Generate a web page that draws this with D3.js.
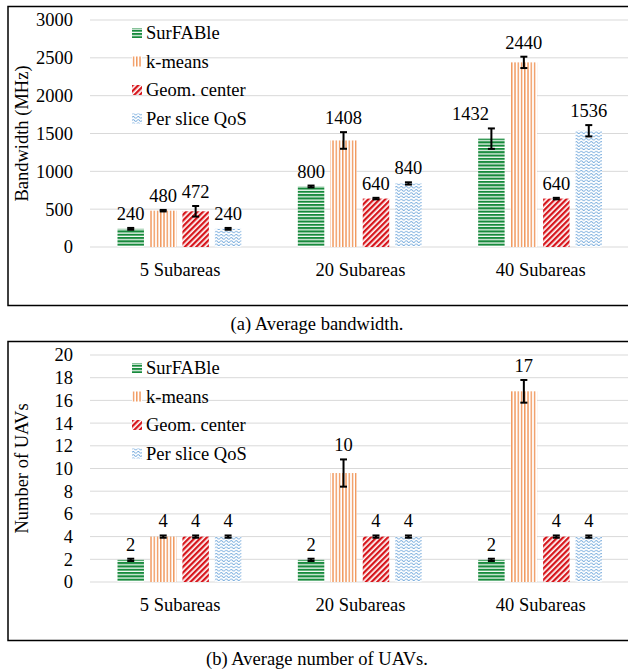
<!DOCTYPE html>
<html>
<head>
<meta charset="utf-8">
<script src="https://cdn.jsdelivr.net/npm/d3@7"></script>
<style>
body { margin:0; background:#fff; }
svg { display:block; }
</style>
</head>
<body>
<div id="chart"></div>
<script>
var categories = ["5 Subareas", "20 Subareas", "40 Subareas"];
var series = ["SurFABle", "k-means", "Geom. center", "Per slice QoS"];

// panel (a) bandwidth, one row per series
var bwValues = [[240, 800, 1432], [480, 1408, 2440], [472, 640, 640], [240, 840, 1536]];
var bwErrors = [[12, 12, 135], [10, 110, 75], [70, 10, 10], [12, 15, 75]];
var bwLabels = [["240", "800", "1432"], ["480", "1408", "2440"], ["472", "640", "640"], ["240", "840", "1536"]];
var bwTicks = [0, 500, 1000, 1500, 2000, 2500, 3000];

// panel (b) number of UAVs
var uavValues = [[1.95, 1.95, 1.95], [4, 9.6, 16.8], [4, 4, 4], [4, 4, 4]];
var uavErrors = [[0.1, 0.1, 0.1], [0.1, 1.2, 1.0], [0.1, 0.1, 0.1], [0.1, 0.1, 0.1]];
var uavLabels = [["2", "2", "2"], ["4", "10", "17"], ["4", "4", "4"], ["4", "4", "4"]];
var uavTicks = [0, 2, 4, 6, 8, 10, 12, 14, 16, 18, 20];

var FONT = "'Liberation Serif', Tinos, 'Times New Roman', 'Nimbus Roman', 'Nimbus Roman No9 L', FreeSerif, 'DejaVu Serif', 'Noto Serif', Georgia, serif";

var svg = d3.select("#chart").append("svg")
  .attr("width", 628)
  .attr("height", 671)
  .style("font-family", FONT);

var defs = svg.append("defs");

// green horizontal lines
var p0 = defs.append("pattern").attr("id", "pat0")
  .attr("patternUnits", "userSpaceOnUse").attr("width", 4).attr("height", 3.3);
p0.append("rect").attr("width", 4).attr("height", 3.3).attr("fill", "#fff");
p0.append("rect").attr("width", 4).attr("height", 2.1).attr("fill", "#178a3c");

// orange vertical lines
var p1 = defs.append("pattern").attr("id", "pat1")
  .attr("patternUnits", "userSpaceOnUse").attr("width", 3.25).attr("height", 4);
p1.append("rect").attr("width", 3.25).attr("height", 4).attr("fill", "#fff");
p1.append("rect").attr("x", 1).attr("width", 1.1).attr("height", 4).attr("fill", "#ed7d31");

// red upward diagonal
var p2 = defs.append("pattern").attr("id", "pat2")
  .attr("patternUnits", "userSpaceOnUse").attr("width", 4).attr("height", 4)
  .attr("patternTransform", "rotate(45)");
p2.append("rect").attr("width", 4).attr("height", 4).attr("fill", "#fff");
p2.append("rect").attr("width", 2.3).attr("height", 4).attr("fill", "#d7161c");

// blue waves
var p3 = defs.append("pattern").attr("id", "pat3")
  .attr("patternUnits", "userSpaceOnUse").attr("width", 5).attr("height", 3.2);
p3.append("rect").attr("width", 5).attr("height", 3.2).attr("fill", "#fff");
p3.append("path").attr("d", "M0,2 Q1.25,0.4 2.5,2 T5,2")
  .attr("fill", "none").attr("stroke", "#6ea6da").attr("stroke-width", 0.9);

function label(sel) {
  return sel.style("font-family", FONT).attr("font-size", 18.5);
}

function panel(top, values, errors, labels, ticks, yTitle, caption) {
  var g = svg.append("g").attr("transform", "translate(0," + top + ")");
  var zero = 241, ytop = 14;

  g.append("rect")
    .attr("x", 8).attr("y", 0.5).attr("width", 640).attr("height", 299)
    .attr("fill", "none").attr("stroke", "#000").attr("stroke-width", 1.5);

  var x = d3.scaleBand().domain(categories).range([90, 631]).paddingInner(0).paddingOuter(0);
  var xs = d3.scaleBand().domain(d3.range(series.length))
    .range([27.5, x.bandwidth() - 29]).paddingInner(0.185).paddingOuter(0);
  var y = d3.scaleLinear().domain([ticks[0], ticks[ticks.length - 1]]).range([zero, ytop]);

  g.selectAll("line.grid").data(ticks)
    .enter().append("line")
    .attr("class", "grid")
    .attr("x1", 90).attr("x2", 628)
    .attr("y1", function(d) { return y(d); })
    .attr("y2", function(d) { return y(d); })
    .attr("stroke", "#d9d9d9").attr("stroke-width", 1);

  g.selectAll("text.tick").data(ticks)
    .enter().append("text")
    .attr("class", "tick")
    .attr("x", 73)
    .attr("y", function(d) { return y(d); })
    .attr("dy", "0.35em")
    .attr("text-anchor", "end")
    .call(label)
    .text(function(d) { return d; });

  g.selectAll("text.cat").data(categories)
    .enter().append("text")
    .attr("class", "cat")
    .attr("x", function(d) { return x(d) + x.bandwidth() / 2; })
    .attr("y", zero + 29)
    .attr("text-anchor", "middle")
    .call(label)
    .text(function(d) { return d; });

  g.append("text")
    .attr("transform", "translate(28," + ((zero + ytop) / 2) + ") rotate(-90)")
    .attr("text-anchor", "middle")
    .call(label)
    .text(yTitle);

  var rows = [];
  series.forEach(function(s, si) {
    categories.forEach(function(c, ci) {
      rows.push({ s: si, c: c, ci: ci, v: values[si][ci], e: errors[si][ci], lab: labels[si][ci] });
    });
  });
  var cx = function(d) { return x(d.c) + xs(d.s) + xs.bandwidth() / 2; };

  g.selectAll("rect.bar").data(rows)
    .enter().append("rect")
    .attr("class", "bar")
    .attr("x", function(d) { return x(d.c) + xs(d.s); })
    .attr("y", function(d) { return y(d.v); })
    .attr("width", xs.bandwidth())
    .attr("height", function(d) { return zero - y(d.v); })
    .attr("fill", function(d) { return "url(#pat" + d.s + ")"; });

  var eb = g.selectAll("g.err").data(rows).enter().append("g")
    .attr("class", "err")
    .attr("stroke", "#000").attr("stroke-width", 2);
  eb.append("line")
    .attr("x1", cx).attr("x2", cx)
    .attr("y1", function(d) { return y(d.v + d.e); })
    .attr("y2", function(d) { return y(d.v - d.e); });
  eb.append("line")
    .attr("x1", function(d) { return cx(d) - 3.5; })
    .attr("x2", function(d) { return cx(d) + 3.5; })
    .attr("y1", function(d) { return y(d.v + d.e); })
    .attr("y2", function(d) { return y(d.v + d.e); });
  eb.append("line")
    .attr("x1", function(d) { return cx(d) - 3.5; })
    .attr("x2", function(d) { return cx(d) + 3.5; })
    .attr("y1", function(d) { return y(d.v - d.e); })
    .attr("y2", function(d) { return y(d.v - d.e); });

  g.selectAll("text.val").data(rows)
    .enter().append("text")
    .attr("class", "val")
    .attr("x", function(d) {
      // the tall SurFABle label in the last group is nudged left, as in the original
      return cx(d) + (d.s === 0 && d.lab.length > 3 ? -21 : 0);
    })
    .attr("y", function(d) { return y(d.v + d.e) - 8; })
    .attr("text-anchor", "middle")
    .call(label)
    .text(function(d) { return d.lab; });

  var leg = g.selectAll("g.leg").data(series)
    .enter().append("g")
    .attr("class", "leg")
    .attr("transform", function(d, i) { return "translate(132," + (27 + i * 28.5) + ")"; });
  leg.append("rect")
    .attr("x", 0).attr("y", -5).attr("width", 10).attr("height", 10)
    .attr("fill", function(d, i) { return "url(#pat" + i + ")"; });
  leg.append("text")
    .attr("x", 14).attr("dy", "0.35em")
    .call(label)
    .text(function(d) { return d; });

  svg.append("text")
    .attr("x", 317).attr("y", top + 324)
    .attr("text-anchor", "middle")
    .call(label)
    .text(caption);
}

panel(6, bwValues, bwErrors, bwLabels, bwTicks, "Bandwidth (MHz)", "(a) Average bandwidth.");
panel(341, uavValues, uavErrors, uavLabels, uavTicks, "Number of UAVs", "(b) Average number of UAVs.");
</script>
</body>
</html>
